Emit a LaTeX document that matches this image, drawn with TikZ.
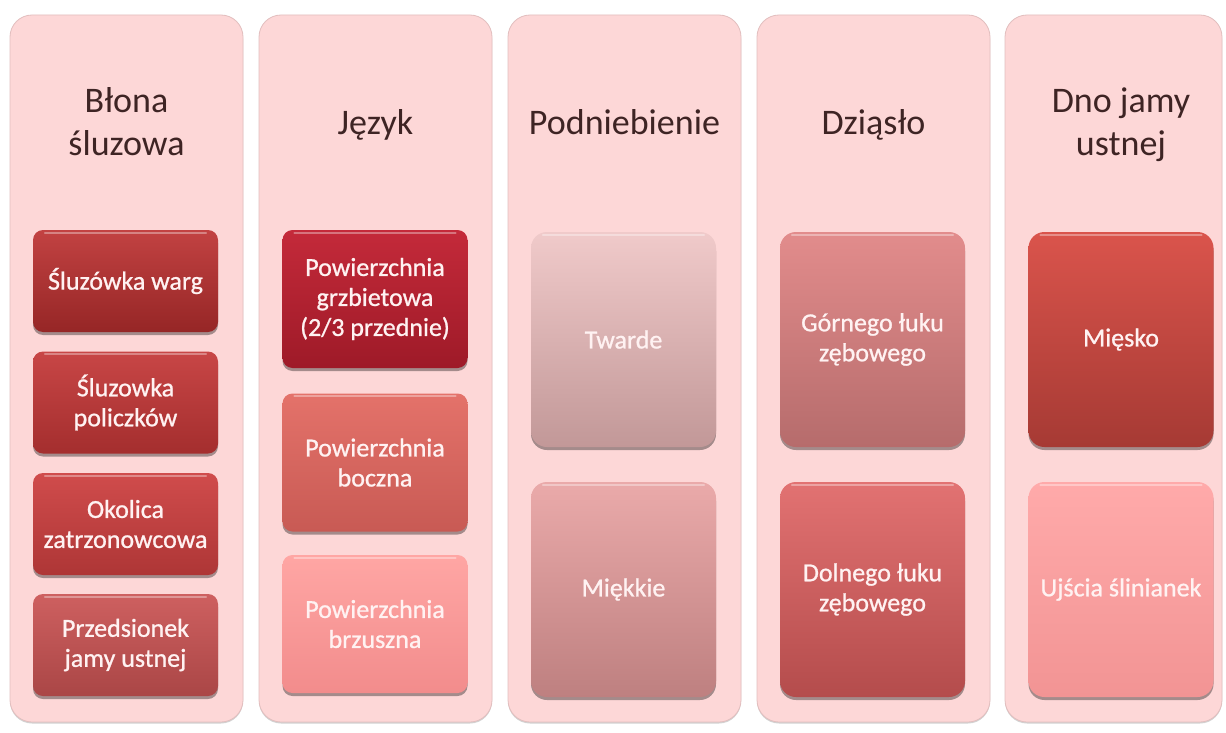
\documentclass[tikz,border=0pt]{standalone}
\usepackage{fontspec}
\setmainfont{Carlito}
\newfontface\itemface{Carlito}[FakeBold=0.9]
\usetikzlibrary{shadows}
\definecolor{panelfill}{HTML}{FDD7D7}
\definecolor{panelline}{HTML}{E2BEBE}
\definecolor{titlecol}{HTML}{3E2424}
\definecolor{itemtext}{HTML}{FFF2F2}
% box colours (top / bottom)
\definecolor{aAt}{HTML}{C24242}\definecolor{aAb}{HTML}{962626}
\definecolor{aBt}{HTML}{C84646}\definecolor{aBb}{HTML}{A42E2E}
\definecolor{aCt}{HTML}{D04C4C}\definecolor{aCb}{HTML}{AE3636}
\definecolor{aDt}{HTML}{CE6060}\definecolor{aDb}{HTML}{AA4646}
\definecolor{bAt}{HTML}{C42A3A}\definecolor{bAb}{HTML}{9E1A28}
\definecolor{bBt}{HTML}{E4726A}\definecolor{bBb}{HTML}{C85A54}
\definecolor{bCt}{HTML}{FFA6A4}\definecolor{bCb}{HTML}{F28C8C}
\definecolor{cAt}{HTML}{F0CACA}\definecolor{cAb}{HTML}{C29898}
\definecolor{cBt}{HTML}{EAAAAA}\definecolor{cBb}{HTML}{BE8080}
\definecolor{dAt}{HTML}{E28C8C}\definecolor{dAb}{HTML}{B66C6C}
\definecolor{dBt}{HTML}{E27272}\definecolor{dBb}{HTML}{B44C4C}
\definecolor{eAt}{HTML}{DA544C}\definecolor{eAb}{HTML}{A63A34}
\definecolor{eBt}{HTML}{FFAAAA}\definecolor{eBb}{HTML}{F29494}
\begin{document}
\begin{tikzpicture}[x=1pt,y=-1pt,
  panel/.style={draw=panelline, line width=0.8pt, fill=panelfill, rounded corners=22pt,
    minimum width=233pt, minimum height=707pt, inner sep=0pt,
    drop shadow={shadow xshift=0pt, shadow yshift=-1.5pt, opacity=0.25, fill=black!70}},
  title/.style={text=titlecol, font=\fontsize{36}{43}\selectfont, align=center, anchor=base},
  item/.style={rounded corners=10pt, minimum width=185pt, inner sep=0pt, align=center,
    text=itemtext, font=\itemface\fontsize{26}{30}\selectfont,
    drop shadow={shadow xshift=0pt, shadow yshift=-3pt, opacity=0.35, fill=black}},
  big/.style={item, rounded corners=16pt, minimum height=215pt},
  gloss/.style={white, opacity=0.35, line width=2pt, line cap=round},
]
\useasboundingbox (0,0) rectangle (1226,733);
\fill[white] (0,0) rectangle (1226,733);

% panels
\node[panel] (p1) at (126.5,368.5) {};
\node[panel] (p2) at (375.5,368.5) {};
\node[panel] (p3) at (624.5,368.5) {};
\node[panel] (p4) at (873.5,368.5) {};
\node[panel, minimum width=217pt] (p5) at (1113.5,368.5) {};

% titles
\node[title] (t1) at (126.5,155) {Błona\\śluzowa};
\node[title] (t2) at (375.5,135) {Język};
\node[title] (t3) at (624.5,135) {Podniebienie};
\node[title] (t4) at (873.5,135) {Dziąsło};
\node[title] (t5) at (1121,155) {Dno jamy\\ustnej};

% column 1
\node[item, minimum height=102pt, top color=aAt, bottom color=aAb] (a1) at (125.5,281) {Śluzówka warg};
\node[item, minimum height=102pt, top color=aBt, bottom color=aBb] (a2) at (125.5,402.5) {Śluzowka\\policzków};
\node[item, minimum height=102pt, top color=aCt, bottom color=aCb] (a3) at (125.5,524) {Okolica\\zatrzonowcowa};
\node[item, minimum height=102pt, top color=aDt, bottom color=aDb] (a4) at (125.5,645) {Przedsionek\\jamy ustnej};

% column 2
\node[item, minimum height=138pt, top color=bAt, bottom color=bAb] (b1) at (375,299) {Powierzchnia\\grzbietowa\\(2/3 przednie)};
\node[item, minimum height=138pt, top color=bBt, bottom color=bBb] (b2) at (375,462.5) {Powierzchnia\\boczna};
\node[item, minimum height=138pt, top color=bCt, bottom color=bCb] (b3) at (375,624) {Powierzchnia\\brzuszna};

% column 3
\node[big, top color=cAt, bottom color=cAb] (c1) at (623.5,339.5) {Twarde};
\node[big, top color=cBt, bottom color=cBb] (c2) at (623.5,589.5) {Miękkie};

% column 4
\node[big, top color=dAt, bottom color=dAb] (d1) at (872.5,339.5) {Górnego łuku\\zębowego};
\node[big, top color=dBt, bottom color=dBb] (d2) at (872.5,589.5) {Dolnego łuku\\zębowego};

% column 5
\node[big, top color=eAt, bottom color=eAb] (e1) at (1121,339.5) {Mięsko};
\node[big, top color=eBt, bottom color=eBb] (e2) at (1121,589.5) {Ujścia ślinianek};

% glossy highlight along top edges
\foreach \n in {a1,a2,a3,a4,b1,b2,b3,c1,c2,d1,d2,e1,e2}
  \draw[gloss] ([xshift=12pt,yshift=-3pt]\n.north west) -- ([xshift=-12pt,yshift=-3pt]\n.north east);
\end{tikzpicture}
\end{document}
